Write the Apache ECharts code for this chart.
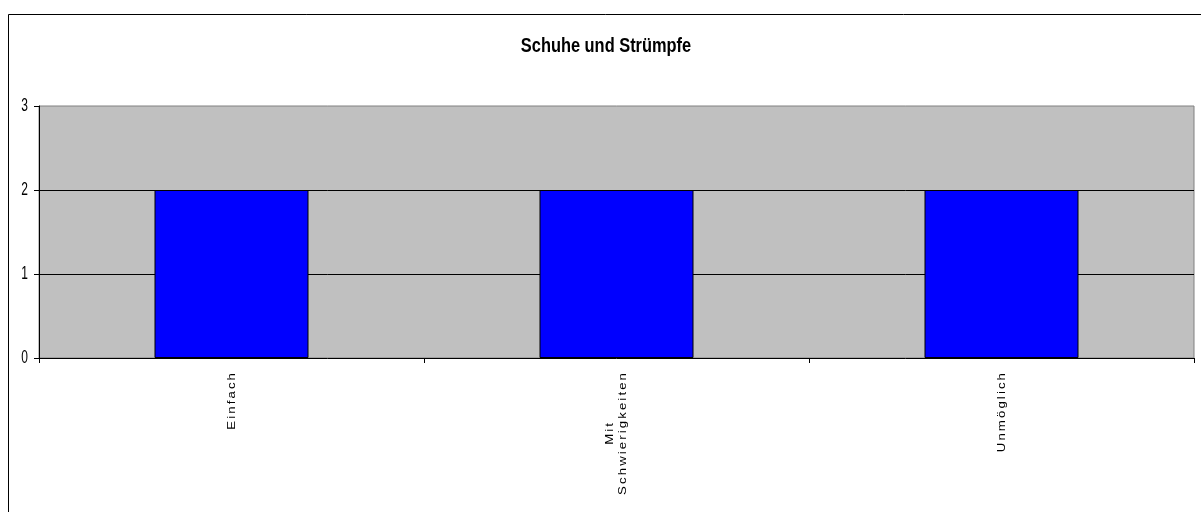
<!DOCTYPE html>
<html>
<head>
<meta charset="utf-8">
<script src="https://cdn.jsdelivr.net/npm/echarts@6/dist/echarts.min.js"></script>
<style>
  html, body { margin: 0; padding: 0; background: #fff; }
  #chart { width: 1201px; height: 512px; }
</style>
</head>
<body>
<div id="chart"></div>
<script>
// Chart content
const chartTitle = 'Schuhe und Strümpfe';
const categories = ['Einfach', 'Mit\nSchwierigkeiten', 'Unmöglich'];
const values = [2, 2, 2];
const yTicks = [0, 1, 2, 3];

const FONT = "'Liberation Sans', Arial, sans-serif";
// Text in this chart is stretched along the vertical direction of the page
const TEXT_STRETCH = 1.5;
const LABEL_STRETCH = 1.2;

const chart = echarts.init(document.getElementById('chart'), null, { renderer: 'canvas' });

chart.setOption({
  animation: false,
  backgroundColor: '#ffffff',
  grid: {
    left: 39, top: 106, right: 7, bottom: 154,
    show: true,
    backgroundColor: '#C0C0C0',
    borderColor: '#808080',
    borderWidth: 1,
    containLabel: false,
    outerBoundsMode: 'none'
  },
  xAxis: {
    type: 'category',
    data: categories,
    axisLine: { show: true, lineStyle: { color: '#000', width: 1 } },
    axisTick: { show: true, inside: false, length: 5, lineStyle: { color: '#000', width: 1 } },
    axisLabel: { show: false },
    splitLine: { show: false }
  },
  yAxis: {
    type: 'value',
    min: yTicks[0],
    max: yTicks[yTicks.length - 1],
    interval: 1,
    axisLine: { show: true, lineStyle: { color: '#000', width: 1 } },
    axisTick: { show: true, inside: false, length: 5, lineStyle: { color: '#000', width: 1 } },
    axisLabel: { show: false },
    splitLine: {
      show: true,
      showMinLine: false,
      showMaxLine: false,
      lineStyle: { color: ['#000', '#000', '#505050'], width: 1 }
    }
  },
  series: [{
    type: 'bar',
    data: values,
    barWidth: '40%',
    itemStyle: { color: '#0000FF', borderColor: '#000', borderWidth: 1 },
    emphasis: { disabled: true }
  }]
});

// One rich token per character, so the letters can be spaced apart
function spaced(line) {
  return line.split('').map(function (ch) { return '{a|' + ch + '}'; }).join('');
}

// Labels positioned through the axes
function placeTexts() {
  const g = [];
  // outer chart frame
  g.push({
    type: 'rect', silent: true, z: 10,
    shape: { x: 8.5, y: 14.5, width: 1200, height: 510 },
    style: { fill: 'transparent', stroke: '#000', lineWidth: 1 }
  });
  // title
  g.push({
    type: 'text', silent: true, z: 10,
    x: 606, y: 46, scaleY: 1.25,
    style: {
      text: chartTitle, fontSize: 16.4, fontWeight: 'bold', fontFamily: FONT,
      fill: '#000', align: 'center', verticalAlign: 'middle'
    }
  });
  const c0 = chart.convertToPixel({ xAxisIndex: 0 }, 0);
  const c1 = chart.convertToPixel({ xAxisIndex: 0 }, 1);
  const band = c1 - c0;
  const gridLeft = c0 - band / 2;
  // y tick labels
  yTicks.forEach(function (t) {
    const y = chart.convertToPixel({ yAxisIndex: 0 }, t);
    g.push({
      type: 'text', silent: true, z: 10,
      x: gridLeft - 11, y: y, scaleY: TEXT_STRETCH,
      style: {
        text: String(t), fontSize: 12, fontFamily: FONT,
        fill: '#000', align: 'right', verticalAlign: 'middle'
      }
    });
  });
  // category labels, rotated, reading upward; lines centred on each other
  const axisY = chart.convertToPixel({ yAxisIndex: 0 }, 0);
  categories.forEach(function (cat, i) {
    const cx = chart.convertToPixel({ xAxisIndex: 0 }, i);
    g.push({
      type: 'text', silent: true, z: 10,
      x: cx, y: axisY + 14,
      rotation: Math.PI / 2, scaleX: LABEL_STRETCH,
      style: {
        text: cat.split('\n').map(spaced).join('\n'),
        rich: {
          a: {
            align: 'center', fontSize: 11, fontFamily: FONT, fill: '#000',
            lineHeight: 13.5, padding: [0, 0.875, 0, 0.875]
          }
        },
        align: 'right', verticalAlign: 'middle'
      }
    });
  });
  chart.setOption({ graphic: g });
}
placeTexts();
</script>
</body>
</html>
